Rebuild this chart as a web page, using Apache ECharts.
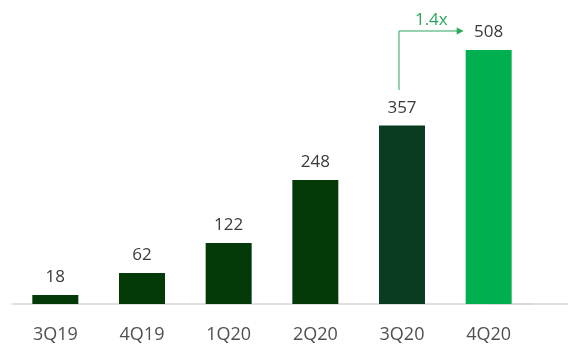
<!DOCTYPE html>
<html>
<head>
<meta charset="utf-8">
<script src="https://cdn.jsdelivr.net/npm/echarts@6/dist/echarts.min.js"></script>
<style>
  html, body { margin: 0; padding: 0; background: #fff; }
  #main { width: 568px; height: 349px; }
</style>
</head>
<body>
<div id="main"></div>
<script>
// data
var categories = ['3Q19', '4Q19', '1Q20', '2Q20', '3Q20', '4Q20'];
var values = [18, 62, 122, 248, 357, 508];
var barColors = ['#033a08', '#033a08', '#033a08', '#033a08', '#0a3c1f', '#00b050'];
// growth annotation 3Q20 -> 4Q20
var growthLabel = '1.4x';
var growthFrom = 4, growthTo = 5;
var arrowBottomValue = 428, arrowTopValue = 546;

var myChart = echarts.init(document.getElementById('main'));
var font = '"Open Sans", sans-serif';

myChart.setOption({
    animation: false,
    grid: { left: 12, right: 36, top: 50, bottom: 45 },
    xAxis: {
        type: 'category',
        data: categories,
        axisTick: { show: false },
        axisLine: { lineStyle: { color: '#d6d6d6', width: 1.5 } },
        axisLabel: { color: '#505050', fontSize: 18, margin: 22, fontFamily: font }
    },
    yAxis: {
        type: 'value', min: 0, max: 508, show: false,
        splitLine: { show: false }
    },
    series: [{
        type: 'bar',
        barWidth: 46,
        data: values.map(function (v, i) {
            return { value: v, itemStyle: { color: barColors[i] } };
        }),
        label: {
            show: true, position: 'top', distance: 9,
            color: '#3a3a3a', fontSize: 17, fontFamily: font
        }
    }]
});

// annotation drawn from the chart's own scales
var pFrom = myChart.convertToPixel({ gridIndex: 0 }, [categories[growthFrom], arrowBottomValue]);
var pTop = myChart.convertToPixel({ gridIndex: 0 }, [categories[growthFrom], arrowTopValue]);
var pTo = myChart.convertToPixel({ gridIndex: 0 }, [categories[growthTo], arrowTopValue]);
var base = myChart.convertToPixel({ gridIndex: 0 }, [categories[growthTo], 0]);
var x0 = pFrom[0] - 3, yB = pFrom[1], yT = pTop[1], xE = pTo[0] - 25;
var green = '#2aa85c';

myChart.setOption({
    graphic: [
        { type: 'polyline', shape: { points: [[x0, yB], [x0, yT], [xE - 6, yT]] },
          style: { stroke: green, lineWidth: 1, fill: null } },
        { type: 'polygon', shape: { points: [[xE - 7, yT - 3.5], [xE, yT], [xE - 7, yT + 3.5]] },
          style: { fill: green } },
        { type: 'text', x: (x0 + xE) / 2, y: yT - 11,
          style: { text: growthLabel, fill: green, fontSize: 17, fontFamily: font,
                   align: 'center', verticalAlign: 'middle' } },
        { type: 'line', shape: { x1: base[0], y1: base[1], x2: 568, y2: base[1] },
          style: { stroke: '#d6d6d6', lineWidth: 1.5 }, z: -1 }
    ]
});
</script>
</body>
</html>
